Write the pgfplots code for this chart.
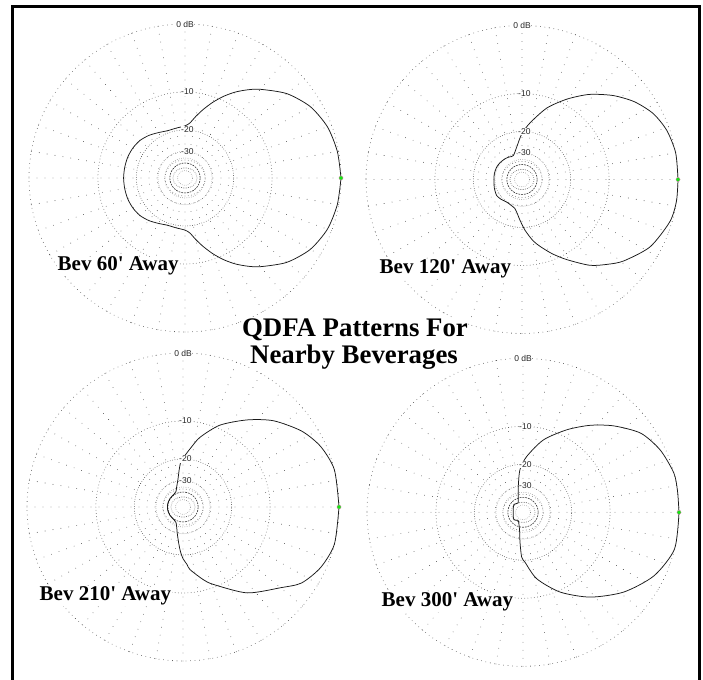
\documentclass[border=0pt]{standalone}
\usepackage{pgfplots}
\pgfplotsset{compat=1.18}
\usepackage{pgfplotstable}
\usepackage{fontspec}
\setmainfont{Liberation Serif}
\newfontfamily\labsans{Liberation Sans}
\font\bevfont="Liberation Serif/B" at 21pt
\definecolor{peak}{RGB}{20,230,20}

% pattern data: azimuth (deg), relative gain (dB); ARRL log radial scale
\pgfplotstableread{
ang db
0 0
10 -0.15
20 -0.5
30 -1.3
40 -2.75
50 -4.9
55 -6.15
60 -7.55
65 -9.2
70 -11.1
75 -13.2
80 -15.4
85 -17.6
90 -18.6
100 -19.1
110 -19.2
120 -18.5
130 -17.5
140 -16.7
150 -16.3
160 -16.1
170 -16.05
180 -16.0
190 -16.05
200 -16.1
210 -16.3
220 -16.7
230 -17.5
240 -18.5
250 -19.2
260 -19.1
270 -18.6
275 -17.6
280 -15.4
285 -13.2
290 -11.1
295 -9.2
300 -7.55
305 -6.15
310 -4.9
320 -2.75
330 -1.3
340 -0.5
350 -0.15
360 0
}\patA

\pgfplotstableread{
ang db
0 0
10 0
19 -0.33
27 -1.0
35 -2.2
43 -3.85
52 -6.1
61 -8.85
71 -12.2
82 -17.0
90.4 -20.96
99.4 -26.65
109.9 -30.95
120 -30.6
129.4 -30.1
142 -29.6
154 -29.3
168 -29.3
182 -29.4
197 -28.9
212.3 -28.25
224 -28.9
236 -29.75
247 -29.3
256.6 -28.1
263 -25.3
267.2 -22.8
273.4 -19.0
280 -15.6
285 -13.7
292 -11.2
299 -8.9
308 -5.95
315 -4.3
321 -3.0
332 -1.24
344 -0.23
352 0
360 0
}\patB

\pgfplotstableread{
ang db
0 0
14 0
24 -0.6
33 -1.7
44 -3.7
54 -6.15
66 -9.3
76.4 -13.1
82.4 -16.2
87.8 -18.75
92.5 -20.85
95.6 -24.05
100.1 -29.1
107.5 -34.3
114.3 -37.9
125 -39.3
145 -39.5
165 -39.5
180 -39.5
195 -39.5
215 -39.5
235 -39.3
245.7 -37.9
252.5 -34.3
258.9 -29.0
264 -24.05
266.8 -21.2
270 -18.75
274 -16.85
276.3 -15.35
285.3 -12.3
291.2 -10.6
306.4 -6.3
320 -3.5
327 -1.7
336 -0.6
346 0
360 0
}\patC

\pgfplotstableread{
ang db
0 0
8 0
14.8 0
24.7 -0.56
34.2 -1.56
43.9 -3.64
52.7 -5.88
62.3 -8.62
74.4 -12.3
86.2 -17.35
94.0 -21.95
100.1 -30.2
109.9 -41.5
116.3 -46.0
128 -45.3
138.4 -43.9
157.6 -46.2
180 -47.6
202.4 -46.2
219.8 -44.3
229.4 -46.2
241 -47.6
258.4 -37.6
264.3 -28.1
268.3 -21.2
272.3 -19.3
281.6 -14.05
294.7 -9.64
308.1 -6.13
321.3 -3.24
333.9 -1.14
346.2 0
360 0
}\patD

\pgfplotstableread{
ang db
0 0
}\peak

\pgfplotsset{
  polarbox/.style={anchor=center, x=156pt, y=154pt,
    xmin=-1.1, xmax=1.1, ymin=-1.1, ymax=1.1, hide axis, clip=false},
  pat/.style={black!90, line width=0.75pt, smooth, tension=0.45, no markers},
  peakmark/.style={only marks, mark=*, mark size=2.1pt,
    mark options={fill=peak, draw=magenta!50, line width=0.3pt}},
  /pgfplots/table/dbr/.style={
    x expr={exp(0.058268*\thisrow{db})*cos(\thisrow{ang})},
    y expr={exp(0.058268*\thisrow{db})*sin(\thisrow{ang})}},
}
\tikzset{
  dotring/.style={black!75, line width=0.8pt, line cap=round, dash pattern=on 0pt off #1},
  dotringin/.style={black!55, line width=0.7pt, line cap=round, dash pattern=on 0pt off #1},
  dblab/.style={fill=white, inner sep=0.6pt, text=black!85,
    font=\labsans\fontsize{8.5pt}{9pt}\selectfont},
}
\newcommand\polargrid{%
  \pgfplotsinvokeforeach{0,10,...,350}{%
    \draw[dotring=8pt] (axis cs:{cos(##1)},{sin(##1)}) -- (axis cs:{0.0543*cos(##1)},{0.0543*sin(##1)});}
  \draw[dotring=4.5pt] (axis cs:0,0) ellipse[x radius=1, y radius=1];
  \draw[dotring=3.2pt] (axis cs:0,0) ellipse[x radius=0.5584, y radius=0.5584];
  \draw[dotring=2.4pt] (axis cs:0,0) ellipse[x radius=0.3118, y radius=0.3118];
  \draw[dotringin=2.0pt] (axis cs:0,0) ellipse[x radius=0.1741, y radius=0.1741];
  \draw[dotringin=2.2pt] (axis cs:0,0) ellipse[x radius=0.1301, y radius=0.1301];
  \draw[black!80, line width=0.6pt, dash pattern=on 1.8pt off 1pt] (axis cs:0,0) ellipse[x radius=0.0972, y radius=0.0972];
  \draw[dotringin=2.0pt] (axis cs:0,0) ellipse[x radius=0.048, y radius=0.048];
}
\newcommand\polarlabels{%
  \node[dblab] at (axis cs:0,1) {0 dB};
  \node[dblab] at (axis cs:0.015,0.5584) {-10};
  \node[dblab] at (axis cs:0.015,0.3118) {-20};
  \node[dblab] at (axis cs:0.015,0.1741) {-30};
}

\begin{document}
\begin{tikzpicture}[x=1pt,y=1pt]
\useasboundingbox (0,0) rectangle (703,679);

\begin{axis}[polarbox, at={(185pt,501pt)}]
  \polargrid
  \addplot[pat] table[dbr] {\patA};
  \addplot[peakmark] table[dbr] {\peak};
  \polarlabels
\end{axis}

\begin{axis}[polarbox, at={(522pt,499.5pt)}]
  \polargrid
  \addplot[pat] table[dbr] {\patB};
  \addplot[peakmark] table[dbr] {\peak};
  \polarlabels
\end{axis}

\begin{axis}[polarbox, at={(183pt,172pt)}]
  \polargrid
  \addplot[pat] table[dbr] {\patC};
  \addplot[peakmark] table[dbr] {\peak};
  \polarlabels
\end{axis}

\begin{axis}[polarbox, at={(523pt,166.7pt)}]
  \polargrid
  \addplot[pat] table[dbr] {\patD};
  \addplot[peakmark] table[dbr] {\peak};
  \polarlabels
\end{axis}

% labels
\node[anchor=base west, fill=white, inner sep=0.5pt] at (57,408) {\bevfont Bev 60' Away};
\node[anchor=base west, fill=white, inner sep=0.5pt] at (379,405) {\bevfont Bev 120' Away};
\node[anchor=base west, fill=white, inner sep=0.5pt] at (39,78) {\bevfont Bev 210' Away};
\node[anchor=base west, fill=white, inner sep=0.5pt] at (381,72) {\bevfont Bev 300' Away};

\node[anchor=base, fill=white, inner sep=0.5pt, font=\fontsize{26.8pt}{28pt}\selectfont\bfseries] at (355,342.3) {QDFA Patterns For};
\node[anchor=base, fill=white, inner sep=0.5pt, font=\fontsize{26.8pt}{28pt}\selectfont\bfseries] at (354,315) {Nearby Beverages};

% frame
\draw[line width=3.5pt, line join=miter] (12.5,-6) -- (12.5,672.5) -- (699.7,672.5) -- (699.7,-6);
\end{tikzpicture}
\end{document}
